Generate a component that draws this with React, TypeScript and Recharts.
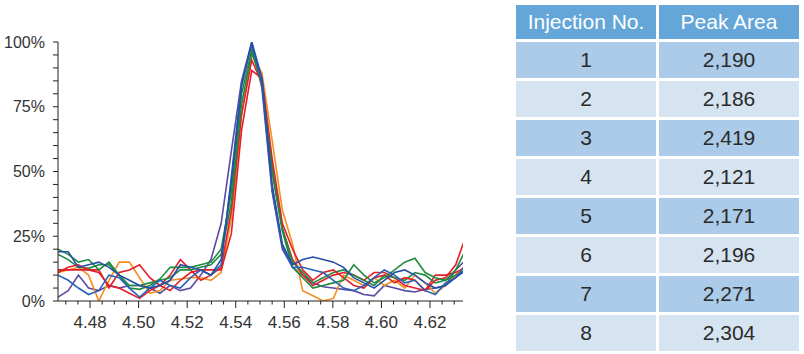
import React from 'react';
import { LineChart, Line, XAxis, YAxis } from 'recharts';

const times = [
  4.4668, 4.471, 4.4752, 4.4794, 4.4836, 4.4878, 4.492, 4.4962, 4.5004, 4.5046,
  4.5088, 4.513, 4.5172, 4.5214, 4.5256, 4.5298, 4.534, 4.5382, 4.5424, 4.5466,
  4.5508, 4.555, 4.5592, 4.5634, 4.5676, 4.5718, 4.576, 4.5802, 4.5844, 4.5886,
  4.5928, 4.597, 4.6012, 4.6054, 4.6096, 4.6138, 4.618, 4.6222, 4.6264, 4.6306, 4.6348,
];

const red1 = [11, 13, 14, 12, 12, 5, 11, 12, 14, 9, 6, 4, 8, 11, 12, 12, 12, 26, 66, 89, 86, 55, 30, 20, 12, 8, 11, 12, 9, 6, 5, 9, 10, 7, 9, 8, 4, 8, 9, 14, 25];
const red2 = [12, 12, 12, 12, 11, 6, 5, 3, 1, 4, 6, 10, 16, 12, 8, 10, 13, 35, 72, 93, 84, 50, 28, 16, 10, 6, 8, 10, 11, 10, 8, 11, 11, 9, 6, 5, 4, 10, 10, 11, 13];
const orange = [11, 12, 13, 10, 0, 8, 15, 15, 9, 3, 4, 8, 8.5, 9, 9, 8, 11, 32, 72, 95, 88, 62, 35, 22, 4, 2, 0, 1, 10, 8, 6, 9, 6, 8, 5, 10, 7, 3, 6, 10, 14];
const green1 = [20, 18, 15, 16, 12, 15, 10, 5, 4.5, 6, 8.5, 13, 13, 13, 14, 15, 20, 42, 80, 97, 84, 50, 27, 13, 9, 5, 6, 7, 8, 14, 10, 7, 9, 12, 15, 16.5, 11, 9, 8, 12, 20];
const green2 = [18, 16, 13, 12.6, 14, 14, 10, 6, 6, 7, 8, 9, 12, 12, 13, 14, 18, 38, 76, 96, 84, 52, 28, 15, 11, 7, 9, 11, 12, 10, 8, 6, 10, 9, 8, 11, 10, 7, 8, 10, 12];
const blue1 = [19, 19, 13, 14, 15, 13, 10, 8, 6, 5, 6, 8, 14, 13, 12, 10, 16, 46, 83, 100, 86, 45, 22, 14, 16, 17, 16, 15, 13, 9, 7, 5, 8, 11, 12, 10, 7, 5, 6, 9, 12];
const blue2 = [10, 8, 5, 2.5, 4, 10, 9, 5, 1.5, 5, 8, 6, 5, 9, 12, 10, 14, 48, 84, 99, 84, 43, 21, 13, 13, 12, 11, 8, 5, 4, 6, 9, 12, 10, 7, 8, 4, 2.5, 7, 9, 14];
const purple = [1.5, 4, 10, 5, 4, 6, 5, 6, 6, 5, 3, 6, 4, 5, 10, 16, 30, 58, 85, 100, 82, 42, 20, 13, 10, 7, 5.5, 5, 4.5, 4, 2.5, 2, 6, 5, 4, 3.5, 4.5, 5, 6, 12, 16];

const series = [
  { key: 'purple', color: '#5a4aa5', values: purple },
  { key: 'orange', color: '#f39021', values: orange },
  { key: 'red2', color: '#e5202a', values: red2 },
  { key: 'green2', color: '#1d8a45', values: green2 },
  { key: 'red1', color: '#e41e26', values: red1 },
  { key: 'green1', color: '#208b3e', values: green1 },
  { key: 'blue2', color: '#2a62b8', values: blue2 },
  { key: 'blue1', color: '#2450a6', values: blue1 },
];

const yTicks = [0, 5, 10, 15, 20, 25, 30, 35, 40, 45, 50, 55, 60, 65, 70, 75, 80, 85, 90, 95, 100];
const xTicks = [4.47, 4.475, 4.48, 4.485, 4.49, 4.495, 4.5, 4.505, 4.51, 4.515, 4.52, 4.525, 4.53, 4.535, 4.54, 4.545, 4.55, 4.555, 4.56, 4.565, 4.57, 4.575, 4.58, 4.585, 4.59, 4.595, 4.6, 4.605, 4.61, 4.615, 4.62, 4.625, 4.63];

const injectionNos = ['1', '2', '3', '4', '5', '6', '7', '8'];
const peakAreas = ['2,190', '2,186', '2,419', '2,121', '2,171', '2,196', '2,271', '2,304'];
const headers = ['Injection No.', 'Peak Area'];

const data = times.map((t, i) => {
  const row: Record<string, number> = { t };
  series.forEach((s) => {
    row[s.key] = s.values[i];
  });
  return row;
});

const FONT = '"Liberation Sans", Arial, Helvetica, sans-serif';
const AXIS = '#231f20';

const YTick = (props: any) => {
  const { x, y, payload } = props;
  const v = payload.value;
  const major = v % 25 === 0;
  return (
    <g>
      <line x1={x - 5} x2={x} y1={y} y2={y} stroke={AXIS} strokeWidth={1} />
      {major && (
        <text x={x - 13} y={y + 5.5} textAnchor="end" fontSize={16} fill="#333" fontFamily={FONT}>
          {v}%
        </text>
      )}
    </g>
  );
};

const XTick = (props: any) => {
  const { x, y, payload } = props;
  const v = payload.value;
  const major = Math.abs(v * 50 - Math.round(v * 50)) < 1e-6;
  return (
    <g>
      <line x1={x} x2={x} y1={y} y2={y + (major ? 7 : 3.5)} stroke={AXIS} strokeWidth={1} />
      {major && (
        <text x={x} y={y + 27} textAnchor="middle" fontSize={17} fill="#333" fontFamily={FONT}>
          {v.toFixed(2)}
        </text>
      )}
    </g>
  );
};

const COL_LEFT = [516, 659];
const COL_W = 140;
const ROW_H = 36;
const ROW_PITCH = 39;

export default function App() {
  return (
    <div style={{ position: 'absolute', left: 0, top: 0, width: 804, height: 354, background: '#fff' }}>
      <div style={{ position: 'absolute', left: 0, top: 0 }}>
        <LineChart width={480} height={354} data={data} margin={{ top: 42, right: 17, left: 0, bottom: 23 }}>
          <XAxis
            dataKey="t"
            type="number"
            domain={[4.4668, 4.6336]}
            allowDataOverflow
            ticks={xTicks}
            interval={0}
            tick={<XTick />}
            tickSize={0}
            tickMargin={0}
            tickLine={false}
            height={30}
            axisLine={{ stroke: AXIS, strokeWidth: 1 }}
          />
          <YAxis
            type="number"
            domain={[0, 100]}
            allowDataOverflow
            ticks={yTicks}
            interval={0}
            tick={<YTick />}
            tickSize={0}
            tickMargin={0}
            tickLine={false}
            width={58}
            axisLine={{ stroke: AXIS, strokeWidth: 1 }}
          />
          {series.map((s) => (
            <Line
              key={s.key}
              type="linear"
              dataKey={s.key}
              stroke={s.color}
              strokeWidth={1.6}
              dot={false}
              isAnimationActive={false}
            />
          ))}
        </LineChart>
      </div>
      {headers.map((h, c) => (
        <div
          key={'h' + c}
          style={{
            position: 'absolute',
            left: COL_LEFT[c],
            top: 5,
            width: COL_W,
            height: 34,
            background: '#65a6d9',
            color: '#fff',
            fontFamily: FONT,
            fontSize: 21,
            display: 'flex',
            alignItems: 'center',
            justifyContent: 'center',
          }}
        >
          {h}
        </div>
      ))}
      {injectionNos.map((n, r) => (
        <React.Fragment key={'r' + r}>
          {[n, peakAreas[r]].map((txt, c) => (
            <div
              key={c}
              style={{
                position: 'absolute',
                left: COL_LEFT[c],
                top: 42 + r * ROW_PITCH,
                width: COL_W,
                height: ROW_H,
                background: r % 2 === 0 ? '#abcbe8' : '#d6e4f2',
                color: '#2a2a2a',
                fontFamily: FONT,
                fontSize: 21,
                display: 'flex',
                alignItems: 'center',
                justifyContent: 'center',
              }}
            >
              {txt}
            </div>
          ))}
        </React.Fragment>
      ))}
    </div>
  );
}
